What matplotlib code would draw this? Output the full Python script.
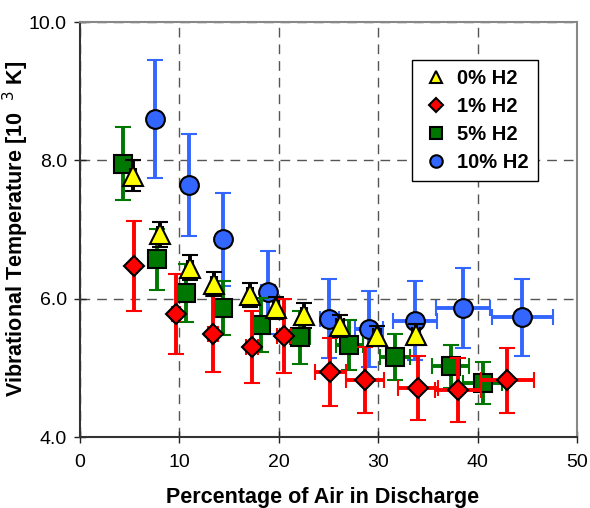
import matplotlib
matplotlib.use("Agg")
import matplotlib.pyplot as plt
from matplotlib.lines import Line2D

plt.rcParams['font.family'] = ['Liberation Sans', 'DejaVu Sans']

# 0% H2
x_h0 = [5.3, 8.05, 11.1, 13.5, 17.1, 19.7, 22.5, 26.2, 29.9, 33.8]
y_h0 = [7.78, 6.93, 6.45, 6.21, 6.05, 5.87, 5.76, 5.60, 5.46, 5.48]
yerr_h0 = [0.22, 0.18, 0.18, 0.17, 0.17, 0.16, 0.18, 0.16, 0.15, 0.15]
xerr_h0 = [0.3, 0.3, 0.3, 0.3, 0.3, 0.3, 0.3, 0.4, 0.4, 0.4]

# 1% H2
x_h1 = [5.4, 9.7, 13.4, 17.3, 20.5, 25.2, 28.7, 34.0, 38.0, 43.0]
y_h1 = [6.47, 5.78, 5.49, 5.30, 5.46, 4.94, 4.82, 4.71, 4.68, 4.82]
yerr_h1 = [0.65, 0.58, 0.55, 0.52, 0.54, 0.49, 0.48, 0.46, 0.46, 0.47]
xerr_h1 = [0.3, 0.4, 0.5, 0.6, 0.7, 1.6, 1.9, 2.0, 2.3, 2.7]

# 5% H2
x_h5 = [4.3, 7.7, 10.7, 14.4, 18.2, 22.1, 27.1, 31.7, 37.3, 40.5]
y_h5 = [7.95, 6.57, 6.08, 5.87, 5.62, 5.44, 5.33, 5.16, 5.02, 4.78]
yerr_h5 = [0.53, 0.44, 0.42, 0.39, 0.39, 0.38, 0.36, 0.33, 0.31, 0.31]
xerr_h5 = [0.3, 0.4, 0.5, 0.6, 0.8, 1.0, 1.35, 1.5, 1.85, 1.95]

# 10% H2
x_h10 = [7.5, 11.0, 14.4, 18.9, 25.1, 29.1, 33.7, 38.5, 44.5]
y_h10 = [8.60, 7.64, 6.86, 6.09, 5.71, 5.56, 5.68, 5.87, 5.73]
yerr_h10 = [0.85, 0.74, 0.67, 0.60, 0.57, 0.55, 0.57, 0.58, 0.56]
xerr_h10 = [0.3, 0.4, 0.5, 0.7, 1.0, 1.4, 2.2, 2.7, 3.1]

fig = plt.figure(figsize=(5.9, 5.08), dpi=100)
ax = fig.add_axes([80 / 590, 71 / 508, 497 / 590, 415 / 508])

ekw = dict(linestyle='none', elinewidth=2.8, capsize=6, capthick=2.8,
           markeredgecolor='black', markeredgewidth=1.5)

ax.errorbar(x_h10, y_h10, yerr=yerr_h10, xerr=xerr_h10, fmt='o', color='#3366FF',
            ecolor='#3366FF', markersize=13.5, zorder=3, **ekw)
ax.errorbar(x_h5, y_h5, yerr=yerr_h5, xerr=xerr_h5, fmt='s', color='#007700',
            ecolor='#007700', markersize=13, zorder=4, **ekw)
ax.errorbar(x_h1, y_h1, yerr=yerr_h1, xerr=xerr_h1, fmt='D', color='#FF0000',
            ecolor='#FF0000', markersize=10.5, zorder=5, **ekw)
ax.errorbar(x_h0, y_h0, yerr=yerr_h0, xerr=xerr_h0, fmt='^', color='#FFFF00',
            ecolor='black', markersize=14, zorder=6, **ekw)

ax.set_xlim(0, 50)
ax.set_ylim(4.0, 10.0)
ax.set_xticks([0, 10, 20, 30, 40, 50])
ax.set_yticks([4.0, 6.0, 8.0, 10.0])
ax.set_yticklabels(['4.0', '6.0', '8.0', '10.0'])
ax.tick_params(direction='inout', length=9, width=1, labelsize=14, colors='#222222',
               labelcolor='black')
ax.tick_params(axis='x', pad=8)
ax.tick_params(axis='y', pad=5)
ax.grid(True, linestyle=(0, (7, 5)), color='#555555', linewidth=1)
ax.set_axisbelow(True)

for s in ['left', 'bottom']:
    ax.spines[s].set_color('#333333')
    ax.spines[s].set_linewidth(1.5)
for s in ['top', 'right']:
    ax.spines[s].set_color('#888888')
    ax.spines[s].set_linewidth(1.5)

# axis titles placed in figure pixels to match the original layout
fig.text(323 / 590, 5 / 508, 'Percentage of Air in Discharge', fontsize=15.5,
         fontweight='bold', ha='center', va='baseline')
fig.text(16 / 590, (508 - 229) / 508, 'Vibrational Temperature [10  $^{3}$ K]',
         fontsize=15.5, fontweight='bold', ha='center', va='center', rotation=90)

handles = [
    Line2D([], [], marker='^', color='#FFFF00', markeredgecolor='black', markersize=9,
           markeredgewidth=1.5, linestyle='none'),
    Line2D([], [], marker='D', color='#FF0000', markeredgecolor='black', markersize=7,
           markeredgewidth=1.5, linestyle='none'),
    Line2D([], [], marker='s', color='#007700', markeredgecolor='black', markersize=8,
           markeredgewidth=1.5, linestyle='none'),
    Line2D([], [], marker='o', color='#3366FF', markeredgecolor='black', markersize=9,
           markeredgewidth=1.5, linestyle='none'),
]
labels = ['0% H2', '1% H2', '5% H2', '10% H2']
leg = ax.legend(handles, labels, loc='upper right', bbox_to_anchor=(0.9215, 0.9084),
                prop={'weight': 'bold', 'size': 14.5}, fancybox=False,
                edgecolor='black', framealpha=1, handletextpad=0.3,
                handlelength=1.5, labelspacing=0.45, borderpad=0.45,
                borderaxespad=0)
leg.get_frame().set_linewidth(1)

fig.savefig('out.png', dpi=100, facecolor='white')
